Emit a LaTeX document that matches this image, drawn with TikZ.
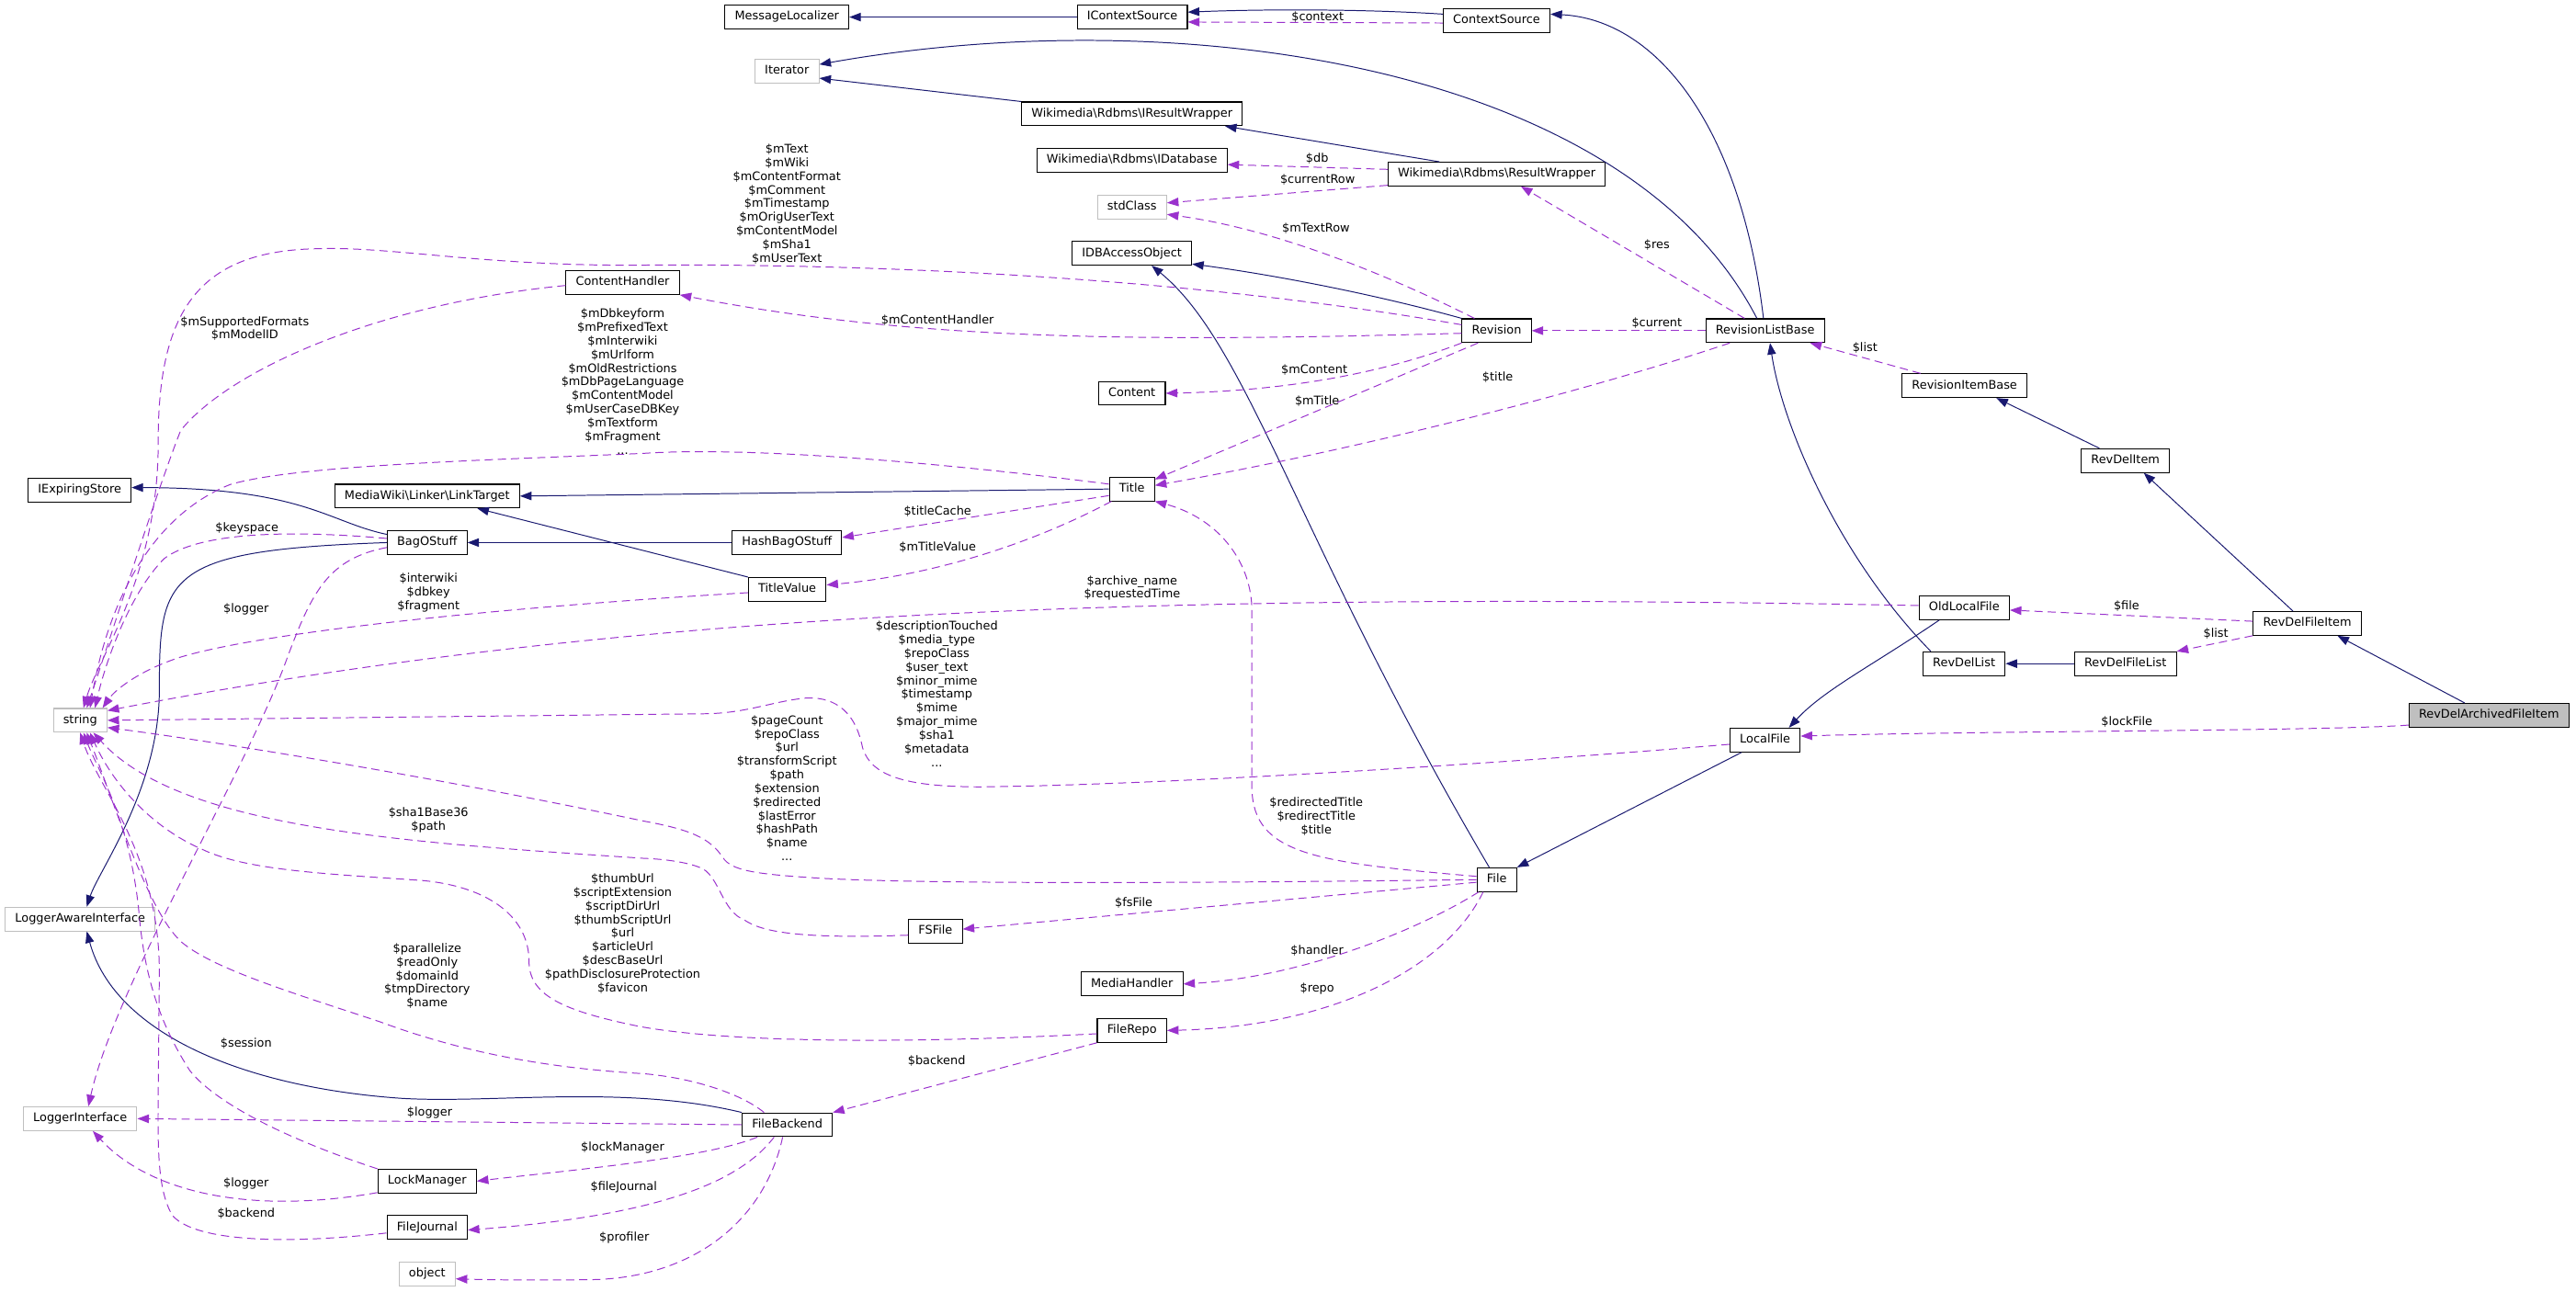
\documentclass[tikz,border=0pt]{standalone}
\usepackage{fontspec}
\setmainfont{DejaVu Sans}
\usetikzlibrary{arrows.meta}
\definecolor{edgeblue}{HTML}{191970}
\definecolor{edgepurple}{HTML}{9A32CD}
\definecolor{grey75}{HTML}{BFBFBF}
\newcommand{\graphfont}{\fontsize{7.2}{8.3}\selectfont}
\tikzstyle{classbox} = [
    rectangle,
    draw=black,
    line width=0.6pt,
    fill=white,
    minimum height=14.4pt,
    inner xsep=6pt,
    inner ysep=0pt,
    text height=5.4pt,
    text depth=1.6pt,
    font=\graphfont
]
\tikzstyle{extbox} = [classbox, draw=grey75]
\tikzstyle{focusbox} = [classbox, fill=grey75]
\tikzstyle{inherit} = [
    -{Triangle[length=7pt,width=5.2pt]},
    draw=edgeblue,
    line width=0.55pt
]
\tikzstyle{usage} = [
    -{Triangle[length=7pt,width=5.2pt]},
    draw=edgepurple,
    dash pattern=on 5pt off 3pt,
    line width=0.55pt
]
\tikzstyle{lbl} = [font=\graphfont, align=center, inner sep=0pt]

\begin{document}
\begin{tikzpicture}[x=1pt, y=-1pt]
        \path[fill=white, use as bounding box] (0,0) rectangle (1568,786);

        % Nodes
        \node[classbox] (MessageLocalizer) at (479,10.4) {MessageLocalizer};
        \node[classbox] (IContextSource) at (689.2,10.4) {IContextSource};
        \node[classbox] (ContextSource) at (911,12.6) {ContextSource};
        \node[extbox] (Iterator) at (479,43.2) {Iterator};
        \node[classbox] (IResultWrapper) at (689,69.3) {Wikimedia\textbackslash Rdbms\textbackslash IResultWrapper};
        \node[classbox] (IDatabase) at (689,97.6) {Wikimedia\textbackslash Rdbms\textbackslash IDatabase};
        \node[classbox] (ResultWrapper) at (911,106) {Wikimedia\textbackslash Rdbms\textbackslash ResultWrapper};
        \node[extbox] (stdClass) at (689,126) {stdClass};
        \node[classbox] (IDBAccessObject) at (689,154.2) {IDBAccessObject};
        \node[classbox] (ContentHandler) at (379,172) {ContentHandler};
        \node[classbox] (Revision) at (911,201.3) {Revision};
        \node[classbox] (RevisionListBase) at (1074.4,201.3) {RevisionListBase};
        \node[classbox] (RevisionItemBase) at (1195.8,234.8) {RevisionItemBase};
        \node[classbox] (Content) at (689,239.4) {Content};
        \node[classbox] (RevDelItem) at (1293.7,280.4) {RevDelItem};
        \node[classbox] (IExpiringStore) at (48.5,298.3) {IExpiringStore};
        \node[classbox] (LinkTarget) at (260,302) {MediaWiki\textbackslash Linker\textbackslash LinkTarget};
        \node[classbox] (Title) at (689,297.7) {Title};
        \node[classbox] (BagOStuff) at (260,330.3) {BagOStuff};
        \node[classbox] (HashBagOStuff) at (479,330.3) {HashBagOStuff};
        \node[classbox] (TitleValue) at (479.2,358.8) {TitleValue};
        \node[classbox] (OldLocalFile) at (1195.6,370) {OldLocalFile};
        \node[classbox] (RevDelFileItem) at (1404.4,379.5) {RevDelFileItem};
        \node[classbox] (RevDelList) at (1195.5,404) {RevDelList};
        \node[classbox] (RevDelFileList) at (1293.7,404) {RevDelFileList};
        \node[focusbox] (RevDelArchivedFileItem) at (1515,435.4) {RevDelArchivedFileItem};
        \node[extbox] (string) at (48.8,438.5) {string};
        \node[classbox] (LocalFile) at (1074.4,450.5) {LocalFile};
        \node[classbox] (File) at (911.1,535.5) {File};
        \node[extbox] (LoggerAwareInterface) at (48.8,559.5) {LoggerAwareInterface};
        \node[classbox] (FSFile) at (569.4,567) {FSFile};
        \node[classbox] (MediaHandler) at (689,599) {MediaHandler};
        \node[classbox] (FileRepo) at (689,627.3) {FileRepo};
        \node[extbox] (LoggerInterface) at (48.8,681) {LoggerInterface};
        \node[classbox] (FileBackend) at (479.2,684.7) {FileBackend};
        \node[classbox] (LockManager) at (260,719) {LockManager};
        \node[classbox] (FileJournal) at (260,747.2) {FileJournal};
        \node[extbox] (object) at (260,775.5) {object};

        % Inheritance arrows
        \draw[inherit] (IContextSource.west) -- (MessageLocalizer.east);
        \draw[inherit] ([yshift=4pt]ContextSource.west) .. controls (830,5.5) and (770,5.5) .. ([yshift=3pt]IContextSource.east);
        \draw[inherit] ([xshift=-1pt]RevisionListBase.north) .. controls (1060,80) and (1010,12) .. ([yshift=4pt]ContextSource.east);
        \draw[inherit] ([xshift=-5pt]RevisionListBase.north) .. controls (990,40) and (720,0) .. ([yshift=4pt]Iterator.east);
        \draw[inherit] (IResultWrapper.north west) -- ([yshift=-4.4pt]Iterator.east);
        \draw[inherit] ([xshift=31.6pt]ResultWrapper.north west) -- ([xshift=-10.8pt]IResultWrapper.south east);
        \draw[inherit] (Revision.north west) .. controls (840,180) and (780,168) .. ([yshift=1pt]IDBAccessObject.south east);
        \draw[inherit] ([xshift=-4.6pt]File.north) .. controls (790,330) and (760,210) .. ([xshift=12pt]IDBAccessObject.south);
        \draw[inherit] (Title.west) -- (LinkTarget.east);
        \draw[inherit] (TitleValue.north west) -- ([xshift=-26pt]LinkTarget.south east);
        \draw[inherit] (HashBagOStuff.west) -- (BagOStuff.east);
        \draw[inherit] ([yshift=5pt]BagOStuff.west) .. controls (200,318) and (185,297) .. ([yshift=1.5pt]IExpiringStore.east);
        \draw[inherit] (BagOStuff.west) .. controls (100,335) and (97,350) .. (97,420) .. controls (97,480) and (60,530) .. ([xshift=4pt]LoggerAwareInterface.north);
        \draw[inherit] (FileBackend.north west) .. controls (380,660) and (300,672) .. (244,668.6) .. controls (150,662) and (70,630) .. ([xshift=4pt]LoggerAwareInterface.south);
        \draw[inherit] ([xshift=5pt]RevDelList.north west) .. controls (1120,340) and (1085,260) .. ([xshift=3pt]RevisionListBase.south);
        \draw[inherit] (RevDelFileList.west) -- (RevDelList.east);
        \draw[inherit] ([xshift=-15.8pt]RevDelItem.north) -- ([xshift=19.4pt]RevisionItemBase.south);
        \draw[inherit] ([xshift=-8.7pt]RevDelFileItem.north) -- ([xshift=11.2pt]RevDelItem.south);
        \draw[inherit] ([xshift=-14.8pt]RevDelArchivedFileItem.north) -- ([xshift=18.4pt]RevDelFileItem.south);
        \draw[inherit] ([xshift=-15.2pt]OldLocalFile.south) .. controls (1140,405) and (1110,420) .. ([xshift=14.5pt]LocalFile.north);
        \draw[inherit] ([xshift=-14.3pt]LocalFile.south) -- (File.north east);

        % Usage arrows
        \draw[usage] ([yshift=-1.4pt]ContextSource.west) -- ([yshift=-3pt]IContextSource.east);
        \draw[usage] ([yshift=2.9pt]ResultWrapper.west) -- ([yshift=-2.6pt]IDatabase.east);
        \draw[usage] ([yshift=-6.8pt]ResultWrapper.west) -- ([yshift=2.5pt]stdClass.east);
        \draw[usage] ([xshift=-13.5pt]Revision.north) .. controls (850,170) and (780,140) .. ([yshift=-4.5pt]stdClass.east);
        \draw[usage] ([xshift=-12.5pt]RevisionListBase.north) -- ([xshift=14.8pt]ResultWrapper.south);
        \draw[usage] (RevisionListBase.west) -- (Revision.east);
        \draw[usage] ([xshift=-21.5pt]RevisionListBase.south) .. controls (960,240) and (820,275) .. ([yshift=2.2pt]Title.east);
        \draw[usage] ([yshift=-1.6pt]Revision.west) .. controls (700,208) and (560,208) .. (ContentHandler.south east);
        \draw[usage] (Revision.south west) .. controls (840,228) and (780,238) .. (Content.east);
        \draw[usage] ([xshift=10pt]Revision.south west) -- ([yshift=5.9pt]Title.east);
        \draw[usage] ([yshift=3.6pt]Revision.west) .. controls (700,165) and (500,161) .. (400,161.3)
            .. controls (300,163) and (240,150) .. (195,151.4)
            .. controls (120,152) and (96,190) .. (96.3,270)
            .. controls (96.3,350) and (60,400) .. ([xshift=2pt]string.north);
        \draw[usage] ([xshift=11.5pt]RevisionItemBase.north west) -- ([xshift=27.4pt]RevisionListBase.south);
        \draw[usage] ([yshift=-1.8pt]ContentHandler.west) .. controls (230,185) and (140,225) .. (110,262)
            .. controls (95,300) and (70,380) .. ([xshift=4pt]string.north);
        \draw[usage] ([yshift=3pt]Title.west) .. controls (560,280) and (450,272) .. (391.6,276)
            .. controls (300,280) and (180,283) .. (140,295)
            .. controls (90,315) and (65,370) .. ([xshift=6pt]string.north);
        \draw[usage] ([yshift=2.5pt]BagOStuff.west) .. controls (170,322) and (120,325) .. (100,340)
            .. controls (80,360) and (65,400) .. ([xshift=9pt]string.north);
        \draw[usage] ([yshift=-3pt]BagOStuff.west) .. controls (200,340) and (190,360) .. (175,400)
            .. controls (150,470) and (70,600) .. ([xshift=5pt]LoggerInterface.north);
        \draw[usage] ([yshift=-2pt]TitleValue.west) .. controls (300,370) and (160,385) .. (110,400)
            .. controls (85,408) and (70,420) .. ([xshift=-3pt]string.north east);
        \draw[usage] ([yshift=1.4pt]OldLocalFile.west) .. controls (700,360) and (380,372) .. ([yshift=5.9pt]string.east);
        \draw[usage] ([yshift=-2.6pt]LocalFile.west) .. controls (900,466) and (700,478) .. (597,479)
            .. controls (550,479) and (530,472) .. (525,455)
            .. controls (520,430) and (505,424) .. (490,425)
            .. controls (470,427) and (455,434) .. (430,434.5) -- (string.east);
        \draw[usage] (File.west) .. controls (700,538) and (550,538) .. (494,534.3)
            .. controls (460,532) and (445,530) .. (440,522)
            .. controls (432,510) and (420,505) .. (391.6,499.8)
            .. controls (250,470) and (120,450) .. ([yshift=-4.4pt]string.east);
        \draw[usage] ([yshift=2pt]File.west) .. controls (800,525) and (763,520) .. (762,480) -- (762,370)
            .. controls (761,340) and (740,315) .. (Title.south east);
        \draw[usage] ([yshift=-1.6pt]File.west) -- ([yshift=1.4pt]FSFile.east);
        \draw[usage] ([xshift=1.3pt]File.south west) .. controls (860,568) and (790,595) .. (MediaHandler.east);
        \draw[usage] ([xshift=4pt]File.south west) .. controls (880,590) and (810,625) .. (FileRepo.east);
        \draw[usage] ([yshift=-2.3pt]FSFile.west) .. controls (480,572) and (462,566) .. (453,560)
            .. controls (440,555) and (438,535) .. (428,529)
            .. controls (420,525) and (405,523) .. (391.6,522.5)
            .. controls (250,513) and (110,505) .. ([xshift=8pt]string.south);
        \draw[usage] ([yshift=-2pt]FileRepo.west) .. controls (540,636) and (440,634) .. (390,625)
            .. controls (340,615) and (322,605) .. (322,585)
            .. controls (322,560) and (300,540) .. (257,536)
            .. controls (200,532) and (150,530) .. (123,517)
            .. controls (95,505) and (70,480) .. ([xshift=6pt]string.south);
        \draw[usage] ([xshift=13.6pt]FileBackend.north west) .. controls (450,665) and (420,656) .. (391.6,653.6)
            .. controls (330,650) and (280,640) .. (231.2,622)
            .. controls (180,605) and (130,590) .. (110.5,573.5)
            .. controls (90,555) and (70,490) .. ([xshift=4pt]string.south);
        \draw[usage] (LockManager.north west) .. controls (170,692) and (130,670) .. (115.6,651.8)
            .. controls (95,620) and (88,590) .. (85,560)
            .. controls (80,500) and (60,470) .. ([xshift=2pt]string.south);
        \draw[usage] ([yshift=-3.4pt]FileJournal.west) .. controls (180,757) and (120,757) .. (105,740)
            .. controls (96,725) and (96,700) .. (96.3,666.7) -- (97,592)
            .. controls (97,520) and (60,480) .. (string.south);
        \draw[usage] (FileBackend.west) -- (LoggerInterface.east);
        \draw[usage] ([yshift=-7pt]LockManager.west) .. controls (150,740) and (90,725) .. ([xshift=7.7pt]LoggerInterface.south);
        \draw[usage] ([xshift=-18.2pt]FileBackend.south) .. controls (430,705) and (350,712) .. (LockManager.east);
        \draw[usage] ([xshift=-8pt]FileBackend.south) .. controls (450,720) and (400,740) .. ([yshift=-1.6pt]FileJournal.east);
        \draw[usage] ([xshift=-2.8pt]FileBackend.south) .. controls (465,745) and (420,778) .. (360,779)
            .. controls (320,779.5) and (295,779) .. ([yshift=-3pt]object.east);
        \draw[usage] (FileRepo.south west) -- (FileBackend.north east);
        \draw[usage] ([yshift=1.3pt]RevDelFileItem.west) -- ([yshift=-1.4pt]OldLocalFile.east);
        \draw[usage] (RevDelFileItem.south west) -- (RevDelFileList.north east);
        \draw[usage] ([yshift=-6pt]RevDelArchivedFileItem.west) .. controls (1420,445) and (1200,445) .. ([yshift=2.4pt]LocalFile.east);
        \draw[usage] ([xshift=1.5pt]Title.south west) .. controls (630,330) and (570,350) .. ([yshift=2.7pt]TitleValue.east);
        \draw[usage] ([yshift=-4pt]Title.west) -- ([yshift=3.1pt]HashBagOStuff.east);

        % Labels
        \node[lbl] (lbContext) at (802,10.5) {\$context};
        \node[lbl] (lbDb) at (801.7,96.6) {\$db};
        \node[lbl] (lbCurrentRow) at (802,109.5) {\$currentRow};
        \node[lbl] (lbTextRow) at (801,139.1) {\$mTextRow};
        \node[lbl] (lbRes) at (1008.5,149.2) {\$res};
        \node[lbl] (lbCurrent) at (1008.5,196.8) {\$current};
        \node[lbl] (lbListBase) at (1135.2,211.7) {\$list};
        \node[lbl] (lbContent) at (800,225.3) {\$mContent};
        \node[lbl] (lbTitle) at (911.6,229.8) {\$title};
        \node[lbl] (lbMTitle) at (801.7,244.3) {\$mTitle};
        \node[lbl] (lbContentHandler) at (570.7,194.9) {\$mContentHandler};
        \node[lbl] (lbRevText) at (479,124.2) {\$mText\\\$mWiki\\\$mContentFormat\\\$mComment\\\$mTimestamp\\\$mOrigUserText\\\$mContentModel\\\$mSha1\\\$mUserText};
        \node[lbl] (lbFormats) at (149,200) {\$mSupportedFormats\\\$mModelID};
        \node[lbl] (lbTitleText) at (379,232.2) {\$mDbkeyform\\\$mPrefixedText\\\$mInterwiki\\\$mUrlform\\\$mOldRestrictions\\\$mDbPageLanguage\\\$mContentModel\\\$mUserCaseDBKey\\\$mTextform\\\$mFragment\\...};
        \node[lbl] (lbKeyspace) at (150.3,321.6) {\$keyspace};
        \node[lbl] (lbBagLogger) at (149.8,371.1) {\$logger};
        \node[lbl] (lbInterwiki) at (260.8,360.8) {\$interwiki\\\$dbkey\\\$fragment};
        \node[lbl] (lbTitleCache) at (570.7,311.4) {\$titleCache};
        \node[lbl] (lbTitleValue) at (570.7,333.2) {\$mTitleValue};
        \node[lbl] (lbArchive) at (689.1,358) {\$archive\_name\\\$requestedTime};
        \node[lbl] (lbLocalText) at (570.2,422.4) {\$descriptionTouched\\\$media\_type\\\$repoClass\\\$user\_text\\\$minor\_mime\\\$timestamp\\\$mime\\\$major\_mime\\\$sha1\\\$metadata\\...};
        \node[lbl] (lbFileText) at (479,479.7) {\$pageCount\\\$repoClass\\\$url\\\$transformScript\\\$path\\\$extension\\\$redirected\\\$lastError\\\$hashPath\\\$name\\...};
        \node[lbl] (lbRedirect) at (801.2,497.2) {\$redirectedTitle\\\$redirectTitle\\\$title};
        \node[lbl] (lbSha) at (260.8,499.3) {\$sha1Base36\\\$path};
        \node[lbl] (lbRepoText) at (379,568.3) {\$thumbUrl\\\$scriptExtension\\\$scriptDirUrl\\\$thumbScriptUrl\\\$url\\\$articleUrl\\\$descBaseUrl\\\$pathDisclosureProtection\\\$favicon};
        \node[lbl] (lbBackendText) at (260,594.2) {\$parallelize\\\$readOnly\\\$domainId\\\$tmpDirectory\\\$name};
        \node[lbl] (lbSession) at (149.8,635.4) {\$session};
        \node[lbl] (lbBackendLogger) at (261.5,677.3) {\$logger};
        \node[lbl] (lbLockLogger) at (149.8,720.4) {\$logger};
        \node[lbl] (lbJournalBackend) at (149.8,738.7) {\$backend};
        \node[lbl] (lbLockManager) at (379,698.4) {\$lockManager};
        \node[lbl] (lbFileJournal) at (379.7,722.7) {\$fileJournal};
        \node[lbl] (lbProfiler) at (380,753.4) {\$profiler};
        \node[lbl] (lbFsFile) at (690.1,549.6) {\$fsFile};
        \node[lbl] (lbRepoBackend) at (570.1,645.8) {\$backend};
        \node[lbl] (lbHandler) at (801.7,578.7) {\$handler};
        \node[lbl] (lbRepo) at (801.7,601.8) {\$repo};
        \node[lbl] (lbFile) at (1294.4,368.8) {\$file};
        \node[lbl] (lbList) at (1348.8,386) {\$list};
        \node[lbl] (lbLockFile) at (1294.6,439.7) {\$lockFile};
    \end{tikzpicture}
\end{document}
